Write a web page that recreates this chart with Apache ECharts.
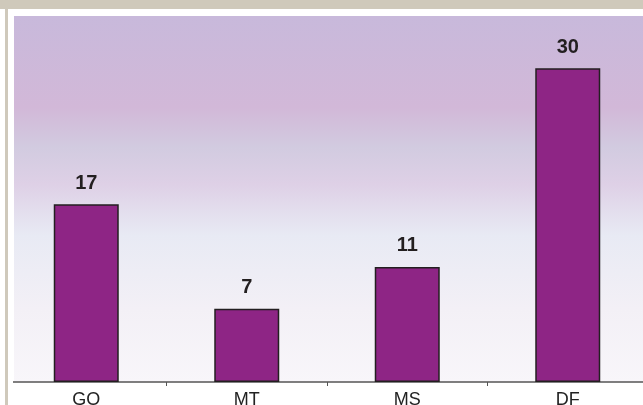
<!DOCTYPE html>
<html>
<head>
<meta charset="utf-8">
<script src="https://cdn.jsdelivr.net/npm/echarts@6/dist/echarts.min.js"></script>
<style>
  html, body { margin: 0; padding: 0; background: #fff; overflow: hidden; }
  #chart { width: 650px; height: 405px; }
</style>
</head>
<body>
<div id="chart"></div>
<script>
// categories and values
const categories = ["GO", "MT", "MS", "DF"];
const values = [17, 7, 11, 30];

const myChart = echarts.init(document.getElementById("chart"));

const option = {
  animation: false,
  backgroundColor: "#fff",
  graphic: [
    // beige frame top / left
    { type: "rect", shape: { x: 0, y: 0, width: 650, height: 9 }, style: { fill: "#CFC9BB" }, z: -10 },
    { type: "rect", shape: { x: 5, y: 0, width: 3, height: 405 }, style: { fill: "#CFC9BB" }, z: 101 },
    // plot background gradient
    {
      type: "rect",
      shape: { x: 14, y: 16, width: 636, height: 366 },
      style: {
        fill: new echarts.graphic.LinearGradient(0, 0, 0, 1, [
          { offset: 0, color: "#C8B9DB" },
          { offset: 0.25, color: "#D2B8D8" },
          { offset: 0.36, color: "#D2CBE0" },
          { offset: 0.46, color: "#DED0E6" },
          { offset: 0.6, color: "#E8EAF4" },
          { offset: 0.8, color: "#F3F0F6" },
          { offset: 1, color: "#F8F6FA" }
        ])
      },
      z: -5
    },
    // axis line starts at the plot edge, not at the frame
    { type: "rect", shape: { x: 0, y: 376, width: 13, height: 12 }, style: { fill: "#fff" }, z: 100 }
  ],
  grid: {
    left: 6,
    top: 16,
    width: 642,
    bottom: 23,
    containLabel: false,
    outerBoundsMode: "none"
  },
  xAxis: {
    type: "category",
    data: categories,
    axisLine: { show: true, lineStyle: { color: "#555", width: 1.5 } },
    axisTick: { show: true, length: 4, lineStyle: { color: "#555" } },
    axisLabel: {
      color: "#222",
      fontFamily: "Liberation Sans",
      fontSize: 18,
      margin: 9
    }
  },
  yAxis: {
    type: "value",
    min: 0,
    max: 35,
    show: false,
    splitLine: { show: false }
  },
  series: [
    {
      type: "bar",
      data: values,
      barWidth: 65,
      itemStyle: {
        color: "#8E2585",
        borderColor: "#231F20",
        borderWidth: 1.5
      },
      label: {
        show: true,
        position: "top",
        distance: 11,
        color: "#231F20",
        fontFamily: "Liberation Sans",
        fontWeight: "bold",
        fontSize: 20
      }
    }
  ]
};

myChart.setOption(option);
</script>
</body>
</html>
